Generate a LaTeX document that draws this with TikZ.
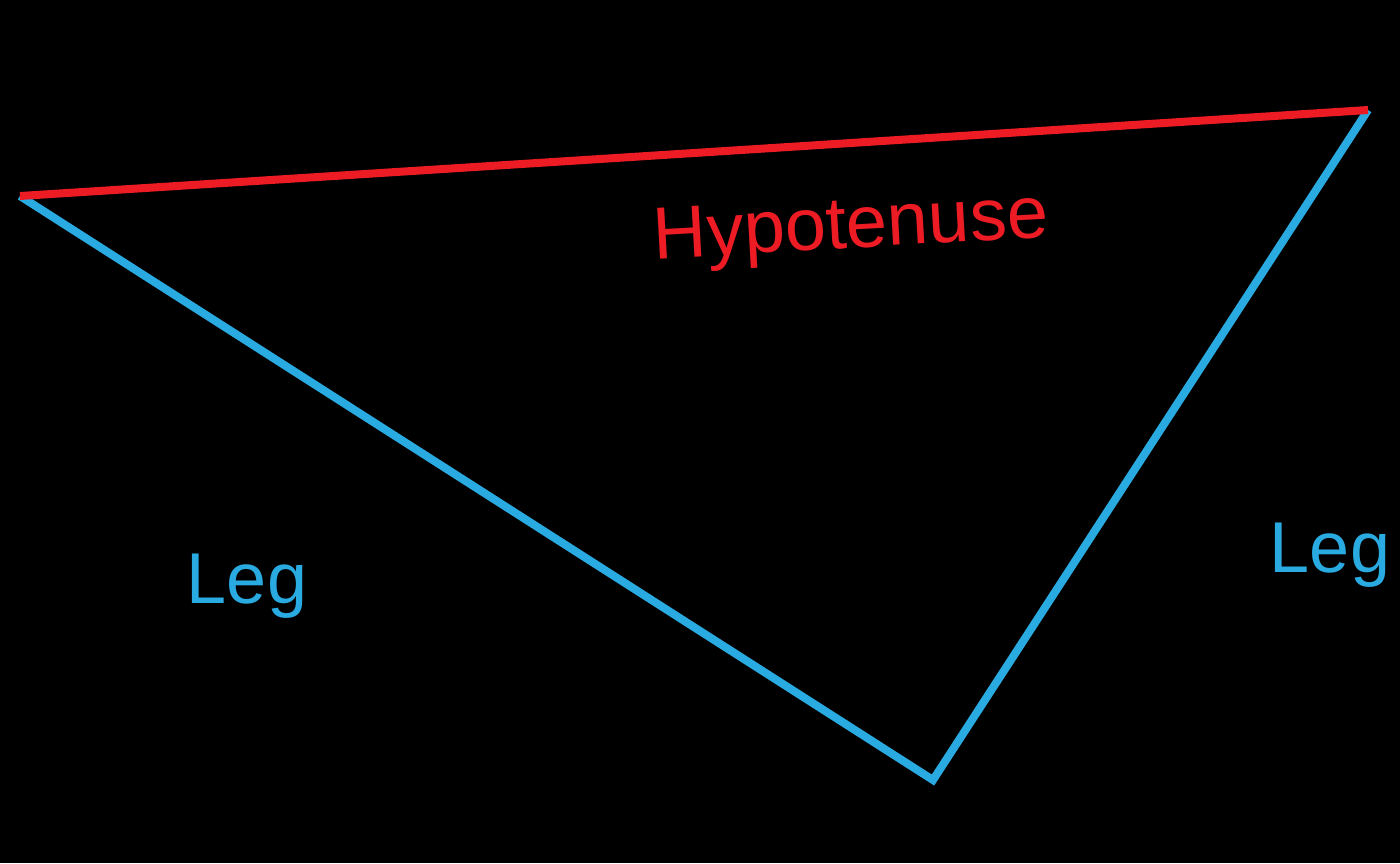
\documentclass[tikz,border=0pt]{standalone}
\usepackage{fontspec}
\setmainfont{Liberation Sans}
\definecolor{hypred}{HTML}{ED1C24}
\definecolor{legblue}{HTML}{29ABE2}
\begin{document}
\begin{tikzpicture}[x=1pt,y=-1pt,
  side/.style={line width=8pt,line join=miter},
  lbl/.style={font=\fontsize{72pt}{80pt}\selectfont,inner sep=0pt,anchor=base}]
\fill[black] (0,0) rectangle (1400,863);
\useasboundingbox (0,0) rectangle (1400,863);
\coordinate (A) at (20,196);
\coordinate (B) at (1368,110);
\coordinate (C) at (933,780);
\draw[side,legblue] (A) -- (C) -- (B);
\draw[side,hypred] (A) -- (B);
\node[lbl,text=hypred,rotate=3.2,font=\fontsize{74pt}{80pt}\selectfont] (hyp) at (852,248) {Hypotenuse};
\node[lbl,text=legblue] (leg1) at (247,603) {Leg};
\node[lbl,text=legblue] (leg2) at (1330,572) {Leg};
\end{tikzpicture}
\end{document}
